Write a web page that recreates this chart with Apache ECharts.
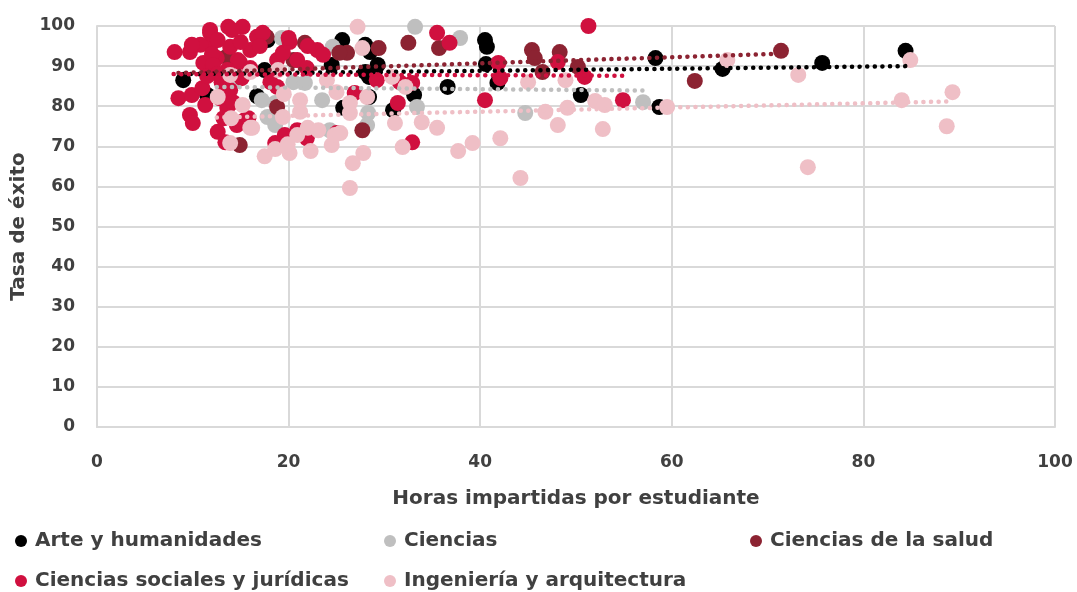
<!DOCTYPE html>
<html><head><meta charset="utf-8">
<script src="https://cdn.jsdelivr.net/npm/echarts@6/dist/echarts.min.js"></script>
<style>html,body{margin:0;padding:0;background:#fff}#c{width:1077px;height:592px}</style>
</head><body><div id="c"></div>
<script>
const seriesNames = ["Arte y humanidades","Ciencias","Ciencias de la salud","Ciencias sociales y jurídicas","Ingeniería y arquitectura"];
const colors = ["#000000","#bfbfbf","#8c2332","#d0103f","#efbfc6"];

const arte = [[9.0,86.5],[11.5,82.8],[16.7,82.5],[17.8,96.5],[17.5,89],[24.5,90.3],[25.6,96.5],[25.7,79.6],[28.0,95.3],[28.5,93.5],[29.3,90.3],[28.0,88.5],[28.4,87.3],[28.4,82.3],[33.1,82.8],[36.6,84.8],[30.9,79.0],[40.5,96.5],[40.7,94.8],[40.6,90.5],[41.8,85.8],[50.5,82.8],[58.3,92.0],[58.7,79.8],[65.3,89.3],[75.7,90.8],[84.4,93.8]];
const ciencias = [[19.3,97],[24.6,94.8],[20.5,86],[21.7,85.8],[23.5,81.5],[17.2,81.5],[17.8,77.3],[18.6,75.3],[24.3,74],[33.2,99.8],[37.9,97],[28.3,78.3],[28.2,75.3],[33.4,79.8],[44.7,78.3],[57.0,81.0],[18.6,80.8],[14.5,86.5]];
const salud = [[14.9,70.3],[18.8,79.8],[27.7,74],[26.1,93.3],[29.4,94.5],[32.5,95.8],[35.7,94.5],[17.7,97.3],[21.7,95.8],[25.3,93.3],[45.4,94],[45.7,92],[46.5,88.5],[48.3,93.5],[50.2,89.8],[62.4,86.3],[71.4,93.8],[13.5,92.3],[20.5,91.5]];
const sociales = [[8.1,93.5],[8.5,82],[9.7,77.8],[10,75.8],[9.9,82.8],[11.3,80.3],[12.6,73.6],[13.4,71],[13.7,99.8],[15.2,99.8],[11.8,98.3],[12,95.8],[9.7,93.5],[10.8,95.3],[11.1,90.8],[12.5,92],[13.9,94.8],[14.7,91.5],[16,94],[16.7,97.3],[17.3,98.3],[14.9,91],[13.6,89],[15.1,87],[13.9,84],[13.6,79.6],[13.2,77],[14.6,75.3],[15.4,76.5],[11,84.5],[18.8,91.5],[19.4,93.3],[20.1,96],[20.9,91.5],[23,94],[23.6,92.8],[21.9,89.5],[18.1,86],[18.8,84.8],[16,89.5],[9.9,95.3],[11.8,99],[12.6,96.5],[12,93],[12.1,90.3],[14.1,99],[12.6,88],[15.8,77],[19.6,72.8],[20.9,74],[21.9,72],[18.6,70.8],[25,73.3],[35.5,98.3],[36.8,95.8],[29.2,86.5],[31.6,86],[32.9,85.8],[26.9,83.3],[31.4,80.8],[32.9,71],[41.9,90.8],[42.1,87],[40.5,81.5],[48.1,91],[51.3,100],[50.9,87.3],[54.9,81.5],[20,97],[22,95],[17,95],[15,96],[13,86],[11.5,87.5],[12.8,82],[14.2,81]];
const ingenieria = [[13.9,87.8],[16,88.5],[18.9,89],[12.6,82.3],[15.2,80.3],[16,74.6],[13.9,70.8],[17.5,67.5],[18.6,69.3],[20.1,68.3],[19.9,70.5],[20.9,72.8],[22,74.6],[23.1,74],[24.5,70.3],[24.8,72.8],[22.3,68.8],[21.2,81.5],[25,83.5],[24,86.5],[19.4,77.3],[21.2,78.6],[16.2,74.6],[27.2,99.8],[27.7,94.5],[30.8,87.3],[32.2,84.8],[26.4,80.8],[26.4,78.3],[25.4,73.3],[31.1,75.8],[33.9,76],[35.5,74.6],[31.9,69.8],[27.8,68.3],[26.7,65.8],[26.4,59.6],[28.2,82.3],[45,86],[48.9,86.5],[46.8,78.6],[49.1,79.6],[48.1,75.3],[42.1,72],[39.2,70.8],[37.7,68.8],[44.2,62.1],[52,81.3],[53,80.3],[52.8,74.3],[59.5,79.8],[65.8,91.5],[73.2,87.8],[74.2,64.8],[84,81.5],[84.9,91.5],[88.7,75],[89.3,83.5],[19.5,83],[14,77]];

// trend line endpoints
const trendArte = [[9.0,88.0],[84.6,90.0]];
const trendCiencias = [[12.5,84.8],[57.5,83.9]];
const trendSalud = [[8.5,88.3],[71.5,93.1]];
const trendSociales = [[8.0,88.0],[55.0,87.6]];
const trendIngenieria = [[12.5,77.2],[89.3,81.2]];

const xTicks = [0,20,40,60,80,100];
const yTicks = [0,10,20,30,40,50,60,70,80,90,100];

const scatterData = [arte,ciencias,salud,sociales,ingenieria];
const trendData = [trendArte,trendCiencias,trendSalud,trendSociales,trendIngenieria];
const FONT = "'DejaVu Sans', sans-serif";
const TXT = "#404040";

const series = [];
scatterData.forEach((d,i)=>{
  series.push({type:'scatter', name:seriesNames[i], data:d, symbolSize:16,
    itemStyle:{color:colors[i], opacity:1}, z:2});
});
trendData.forEach((d,i)=>{
  series.push({type:'line', name:'trend'+i, data:d, symbol:'none', silent:true, z:5,
    lineStyle:{color:colors[i], width:4.5, type:[0.1,7.5], cap:'round'}});
});

const legendPos = [[15,531],[384,531],[750,531],[15,571],[384,571]];
const legends = seriesNames.map((n,i)=>({
  data:[n], left:legendPos[i][0], top:legendPos[i][1], padding:0, icon:'circle', itemWidth:12, itemHeight:12, itemGap:0,
  textStyle:{fontFamily:FONT, fontWeight:'bold', fontSize:20, color:TXT, padding:[0,0,0,3]}
}));

const chart = echarts.init(document.getElementById('c'));
chart.setOption({
  animation:false,
  backgroundColor:'#fff',
  legend: legends,
  grid:{left:97, right:22, top:26, bottom:165, containLabel:false},
  xAxis:{type:'value', min:0, max:100, interval:20,
    name:'Horas impartidas por estudiante', nameLocation:'middle', nameGap:62,
    nameTextStyle:{fontFamily:FONT, fontWeight:'bold', fontSize:20, color:TXT},
    axisLine:{show:true, lineStyle:{color:'#d9d9d9', width:2}}, axisTick:{show:false},
    axisLabel:{fontFamily:FONT, fontWeight:'bold', fontSize:17, color:TXT, margin:27,
      formatter:v=>xTicks.includes(v)?String(v):''},
    splitLine:{show:true, lineStyle:{color:'#d9d9d9', width:2}}},
  yAxis:{type:'value', min:0, max:100, interval:10,
    name:'Tasa de éxito', nameLocation:'middle', nameGap:60, nameRotate:90,
    nameTextStyle:{fontFamily:FONT, fontWeight:'bold', fontSize:20, color:TXT},
    axisLine:{show:true, lineStyle:{color:'#d9d9d9', width:2}}, axisTick:{show:false},
    axisLabel:{fontFamily:FONT, fontWeight:'bold', fontSize:17, color:TXT, margin:22,
      formatter:v=>yTicks.includes(v)?String(v):''},
    splitLine:{show:true, lineStyle:{color:'#d9d9d9', width:2}}},
  series: series
});
</script></body></html>
